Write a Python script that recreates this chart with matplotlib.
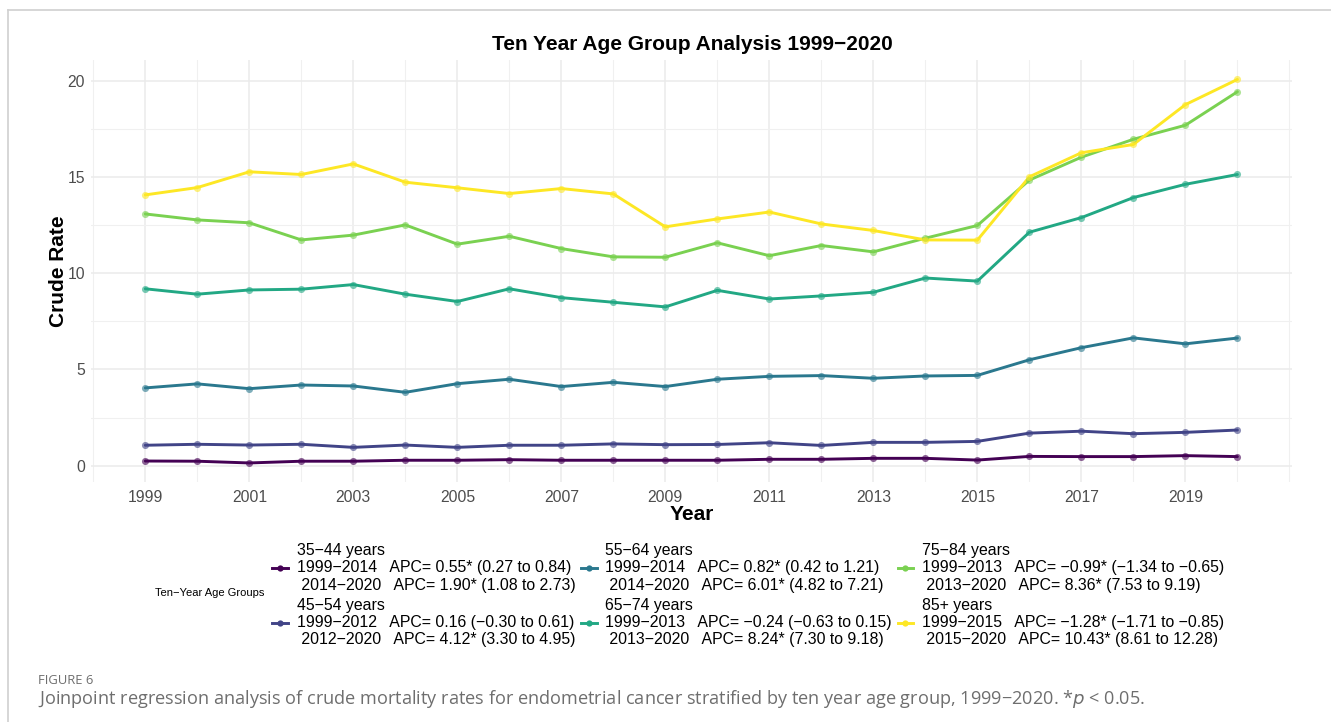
#!/usr/bin/env python3
"""
Crude endometrial cancer mortality by ten-year age group, 1999-2020,
with the joinpoint APC segments listed in the legend.
"""

import matplotlib
matplotlib.use("Agg")
import matplotlib.pyplot as plt
from matplotlib.lines import Line2D
from matplotlib.ticker import FixedLocator

plt.rcParams["font.family"] = ["Liberation Sans", "DejaVu Sans"]

years = list(range(1999, 2021))

rate_35_44 = [0.24, 0.23, 0.14, 0.23, 0.23, 0.28, 0.28, 0.31, 0.28, 0.28, 0.28,
              0.28, 0.33, 0.33, 0.38, 0.38, 0.29, 0.48, 0.47, 0.47, 0.52, 0.47]
rate_45_54 = [1.06, 1.11, 1.07, 1.11, 0.95, 1.07, 0.95, 1.06, 1.06, 1.13, 1.09,
              1.10, 1.19, 1.05, 1.21, 1.21, 1.26, 1.69, 1.79, 1.66, 1.73, 1.85]
rate_55_64 = [4.04, 4.25, 4.00, 4.19, 4.14, 3.81, 4.26, 4.49, 4.11, 4.33, 4.11,
              4.49, 4.64, 4.68, 4.54, 4.66, 4.69, 5.50, 6.13, 6.64, 6.33, 6.63]
rate_65_74 = [9.19, 8.91, 9.13, 9.17, 9.41, 8.91, 8.53, 9.19, 8.73, 8.49, 8.25,
              9.11, 8.66, 8.82, 9.01, 9.75, 9.59, 12.13, 12.89, 13.93, 14.62, 15.13]
rate_75_84 = [13.08, 12.77, 12.62, 11.73, 11.98, 12.51, 11.51, 11.92, 11.28, 10.85, 10.83,
              11.58, 10.91, 11.44, 11.11, 11.82, 12.48, 14.84, 16.03, 16.96, 17.69, 19.43]
rate_85_plus = [14.07, 14.45, 15.27, 15.13, 15.68, 14.73, 14.44, 14.14, 14.40, 14.12, 12.41,
                12.82, 13.18, 12.56, 12.22, 11.73, 11.72, 15.01, 16.26, 16.69, 18.76, 20.07]

group_names = ["35−44 years", "45−54 years", "55−64 years",
               "65−74 years", "75−84 years", "85+ years"]
segment_1 = ["1999−2014   APC= 0.55* (0.27 to 0.84)",
             "1999−2012   APC= 0.16 (−0.30 to 0.61)",
             "1999−2014   APC= 0.82* (0.42 to 1.21)",
             "1999−2013   APC= −0.24 (−0.63 to 0.15)",
             "1999−2013   APC= −0.99* (−1.34 to −0.65)",
             "1999−2015   APC= −1.28* (−1.71 to −0.85)"]
segment_2 = ["2014−2020   APC= 1.90* (1.08 to 2.73)",
             "2012−2020   APC= 4.12* (3.30 to 4.95)",
             "2014−2020   APC= 6.01* (4.82 to 7.21)",
             "2013−2020   APC= 8.24* (7.30 to 9.18)",
             "2013−2020   APC= 8.36* (7.53 to 9.19)",
             "2015−2020   APC= 10.43* (8.61 to 12.28)"]

series = [rate_35_44, rate_45_54, rate_55_64, rate_65_74, rate_75_84, rate_85_plus]
colors = ["#440154", "#414487", "#2A788E", "#22A884", "#7AD151", "#FDE725"]

fig = plt.figure(figsize=(13.31, 7.22), dpi=100)
ax = fig.add_axes([90.7 / 1331, 1 - 482 / 722, (1292 - 90.7) / 1331, (482 - 60) / 722])

handles = []
for vals, col in zip(series, colors):
    ax.plot(years, vals, color=col, lw=2.1, solid_capstyle="round", zorder=3)
    ax.scatter(years, vals, color=col, s=26, alpha=0.6, linewidths=0, zorder=4)
    handles.append(Line2D([], [], color=col, lw=2.1, marker="o", markersize=4.5,
                          markeredgewidth=0, markerfacecolor=col))

labels = [f"{g}\n{s1}\n {s2}" for g, s1, s2 in zip(group_names, segment_1, segment_2)]

ax.set_xlim(1997.95, 2021.05)
ax.set_ylim(-0.85, 21.08)
ax.xaxis.set_major_locator(FixedLocator(list(range(1999, 2021, 2))))
ax.xaxis.set_minor_locator(FixedLocator(list(range(1998, 2021, 2)) + [2021]))
ax.yaxis.set_major_locator(FixedLocator([0, 5, 10, 15, 20]))
ax.yaxis.set_minor_locator(FixedLocator([2.5, 7.5, 12.5, 17.5]))

ax.grid(True, which="major", color="#EBEBEB", lw=1.1)
ax.grid(True, which="minor", color="#F0F0F0", lw=0.8)
ax.set_axisbelow(True)
for sp in ax.spines.values():
    sp.set_visible(False)
ax.tick_params(which="both", length=0)
ax.tick_params(axis="x", labelsize=11.3, labelcolor="#4D4D4D", pad=6)
ax.tick_params(axis="y", labelsize=11.3, labelcolor="#4D4D4D", pad=4)

ax.set_xlabel("Year", fontsize=15, fontweight="bold", labelpad=0)
ax.set_ylabel("Crude Rate", fontsize=15, fontweight="bold", labelpad=0)
fig.text(692 / 1331, 1 - 44 / 722, "Ten Year Age Group Analysis 1999−2020",
         fontsize=15, fontweight="bold", ha="center", va="center")

leg = fig.legend(handles, labels, ncol=3, loc="upper left",
                 bbox_to_anchor=(272 / 1331, 1 - 543 / 722),
                 frameon=False, fontsize=11.4, handlelength=1.0,
                 handletextpad=0.55, columnspacing=0.35, labelspacing=0.3,
                 borderaxespad=0, borderpad=0)
for t in leg.get_texts():
    t.set_linespacing(1.2)
fig.text(155 / 1331, 1 - 593 / 722, "Ten−Year Age Groups", fontsize=8,
         ha="left", va="center")

# figure panel frame and caption
fig.add_artist(Line2D([8 / 1331, 8 / 1331], [0, 1 - 9.5 / 722],
                      color="#D0D0D0", lw=1.2, transform=fig.transFigure))
fig.add_artist(Line2D([8 / 1331, 1], [1 - 9.5 / 722, 1 - 9.5 / 722],
                      color="#D0D0D0", lw=1.2, transform=fig.transFigure))
fig.text(38 / 1331, 1 - 681 / 722, "FIGURE 6", fontsize=9.4, color="#6E6E6E",
         family=["Open Sans", "DejaVu Sans"], ha="left", va="center")
fig.text(38 / 1331, 1 - 699 / 722,
         "Joinpoint regression analysis of crude mortality rates for endometrial cancer "
         "stratified by ten year age group, 1999−2020. *$p$ < 0.05.",
         fontsize=13.1, color="#6E6E6E", family=["Open Sans", "DejaVu Sans"],
         ha="left", va="center")

fig.savefig("out.png", dpi=100)
